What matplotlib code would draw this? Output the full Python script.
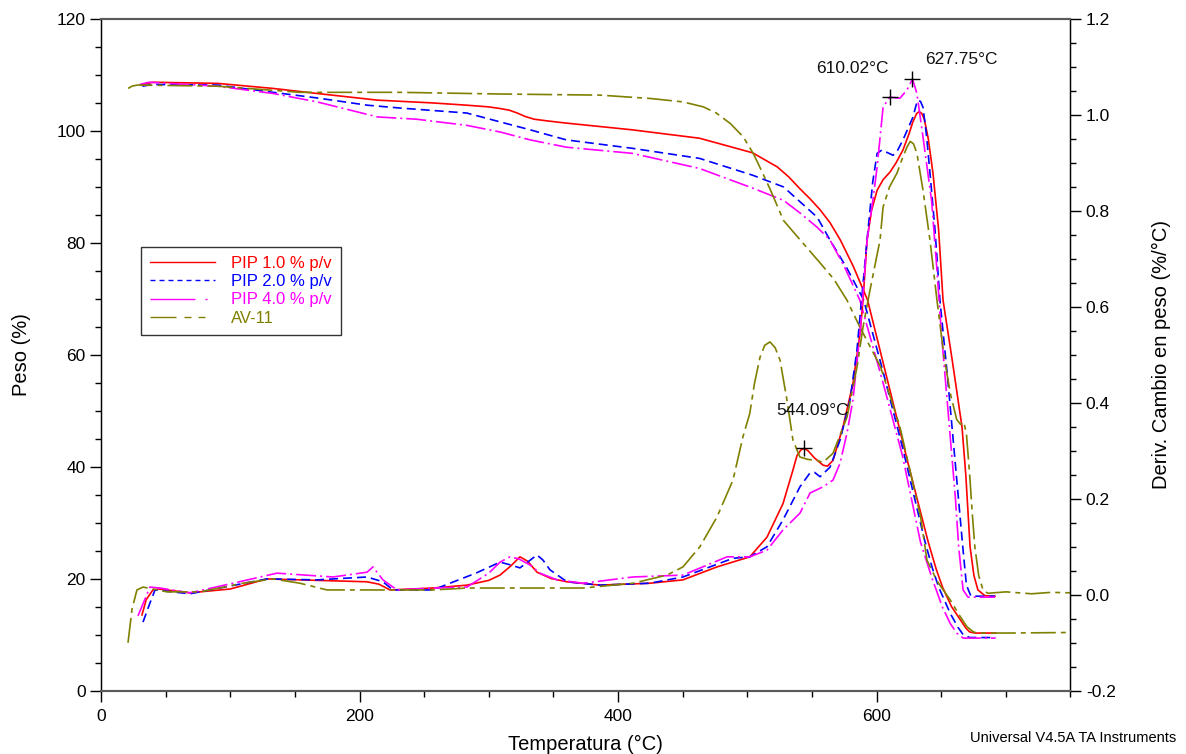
import matplotlib
matplotlib.use("Agg")
import matplotlib.pyplot as plt
from matplotlib.lines import Line2D
from matplotlib.ticker import MultipleLocator, FormatStrFormatter

plt.rcParams['font.family'] = ['Liberation Sans', 'DejaVu Sans']
plt.rcParams['lines.scale_dashes'] = False

# ---------------- weight curves (left axis, %) ----------------
t_w_pip1 = [32, 40, 90, 133, 167, 214, 257, 283, 300, 309, 316, 322, 328, 335, 345, 360, 411,
            463, 504, 523, 532, 541, 548, 556, 564, 572, 582, 593, 610, 625, 640, 646, 651,
            658, 665, 669, 672, 676, 692]
w_pip1 = [108.3, 108.7, 108.5, 107.6, 106.7, 105.5, 105.0, 104.6, 104.3, 104.0, 103.7, 103.2,
          102.6, 102.1, 101.8, 101.4, 100.2, 98.7, 96.1, 93.6, 91.8, 89.6, 88.0, 86.0, 83.6,
          80.5, 75.8, 69.8, 54.0, 40.0, 26.5, 21.8, 18.5, 15.0, 12.6, 11.2, 10.5, 10.3, 10.3]

t_w_pip2 = [32, 40, 90, 133, 167, 206, 231, 283, 309, 332, 360, 411, 463, 504, 528, 541, 554,
            564, 577, 590, 605, 620, 637, 643, 648, 657, 663, 667, 672, 692]
w_pip2 = [108.0, 108.3, 108.2, 106.9, 105.9, 104.6, 104.1, 103.2, 101.6, 100.2, 98.4, 96.9,
          95.1, 92.1, 90.0, 87.3, 84.6, 80.5, 75.5, 69.8, 57.0, 43.5, 27.0, 22.0, 18.5, 13.8,
          11.3, 10.0, 9.5, 9.5]

t_w_pip4 = [30, 37, 90, 133, 167, 214, 244, 283, 309, 332, 360, 411, 463, 504, 528, 541, 554,
            564, 575, 587, 605, 620, 634, 643, 651, 657, 662, 667, 692]
w_pip4 = [108.3, 108.7, 108.0, 106.7, 105.2, 102.5, 102.1, 101.0, 99.8, 98.4, 97.1, 96.0, 93.3,
          89.8, 87.6, 85.3, 82.8, 80.5, 75.8, 69.8, 55.0, 42.0, 26.5, 20.0, 14.9, 12.0, 10.3,
          9.4, 9.4]

t_w_av11 = [21, 24, 28, 90, 154, 231, 309, 386, 425, 450, 466, 476, 487, 497, 505, 512, 518,
            528, 541, 556, 567, 577, 587, 603, 618, 634, 639, 647, 657, 664, 670, 675, 678,
            700, 750]
w_av11 = [107.6, 108.0, 108.2, 108.0, 106.9, 106.9, 106.6, 106.4, 105.8, 105.2, 104.3, 103.2,
          101.3, 98.9, 95.8, 92.4, 89.4, 84.0, 80.5, 76.5, 73.5, 69.8, 65.0, 57.9, 47.2, 31.1,
          23.3, 19.5, 16.2, 13.5, 11.4, 10.5, 10.3, 10.3, 10.4]

# ---------------- derivative curves (right axis, %/°C) ----------------
t_d_pip1 = [31.7, 35, 40.2, 45, 68.8, 100, 128.4, 153.9, 205.8, 215, 223.6, 256.8, 283.1, 300,
            308.7, 317, 324.1, 330, 337.3, 348, 360.5, 386, 424.6, 450.2, 476.5, 501.9, 515.2,
            527.6, 535.3, 538.4, 541.5, 544.09, 547, 552, 558.6, 562, 566.3, 574, 581.7, 587.2,
            589.5, 592.6, 596, 600.4, 605, 610.4, 615, 620.4, 625, 628, 631, 633, 635, 637,
            640, 643.6, 648, 651.4, 659, 666.1, 669, 672.3, 675.3, 678.4, 683.8, 691.6]
d_pip1 = [-0.042, -0.01, 0.01, 0.012, 0.004, 0.012, 0.033, 0.031, 0.027, 0.022, 0.01, 0.014,
          0.02, 0.030, 0.041, 0.060, 0.079, 0.070, 0.047, 0.034, 0.027, 0.020, 0.024, 0.031,
          0.058, 0.079, 0.12, 0.19, 0.26, 0.29, 0.302, 0.305, 0.30, 0.285, 0.27, 0.268, 0.28,
          0.35, 0.44, 0.545, 0.614, 0.739, 0.80, 0.843, 0.865, 0.881, 0.90, 0.927, 0.96, 0.985,
          1.003, 1.007, 1.003, 0.99, 0.95, 0.879, 0.76, 0.614, 0.48, 0.349, 0.25, 0.10, 0.04,
          0.01, -0.002, -0.003]

t_d_pip2 = [32.5, 37.9, 41.8, 68.8, 128.4, 167.1, 205.8, 218.1, 225.9, 256.8, 270, 290, 308.7,
            317, 324.1, 331, 337.3, 342, 347.3, 360.5, 386, 424.6, 450.2, 488.9, 501.9, 515.2,
            527.6, 540.7, 548.5, 552, 556.3, 564, 571.7, 579.4, 584.8, 592.6, 597, 600.4, 604.2,
            608, 612.7, 616, 620.4, 624, 628.2, 630.5, 632, 634, 635.9, 638.5, 641.3, 645.2,
            649, 655, 660, 664, 666.9, 669.5, 673, 691.6]
d_pip2 = [-0.057, -0.017, 0.01, 0.002, 0.033, 0.031, 0.037, 0.027, 0.01, 0.01, 0.024, 0.045,
          0.068, 0.062, 0.056, 0.070, 0.083, 0.072, 0.052, 0.027, 0.020, 0.024, 0.037, 0.076,
          0.079, 0.10, 0.156, 0.225, 0.254, 0.255, 0.246, 0.266, 0.322, 0.405, 0.51, 0.739,
          0.86, 0.92, 0.927, 0.922, 0.916, 0.925, 0.948, 0.97, 0.996, 1.02, 1.031, 1.028,
          1.016, 0.96, 0.879, 0.76, 0.614, 0.45, 0.30, 0.18, 0.093, 0.02, -0.003, -0.003]

t_d_pip4 = [28.6, 37.9, 45.6, 68.8, 102.1, 136.1, 179.5, 205.8, 210.4, 218.1, 229, 256.8, 283.1,
            300, 308.7, 316.4, 323, 331.9, 339.6, 352.8, 372.9, 411.5, 450.2, 484.3, 501.9,
            515.2, 527.6, 540.7, 548.5, 558.6, 566.3, 571.7, 577.1, 581.7, 587.2, 592.6, 597,
            600.4, 605, 610.02, 614, 618.1, 623.5, 627.75, 631.2, 635.9, 642.6, 646.6, 650, 656,
            661, 663.5, 666.9, 670.7, 691.6]
d_pip4 = [-0.044, 0.016, 0.014, 0.004, 0.024, 0.045, 0.037, 0.047, 0.058, 0.031, 0.01, 0.014,
          0.016, 0.045, 0.068, 0.079, 0.075, 0.062, 0.045, 0.031, 0.024, 0.037, 0.041, 0.079,
          0.079, 0.093, 0.135, 0.17, 0.212, 0.225, 0.239, 0.274, 0.337, 0.406, 0.545, 0.739,
          0.82, 0.891, 1.016, 1.037, 1.036, 1.035, 1.052, 1.075, 1.045, 0.954, 0.82, 0.68,
          0.55, 0.36, 0.2, 0.1, 0.01, -0.005, -0.005]

t_d_av11 = [20.9, 24, 27.8, 32.5, 51.1, 76.6, 109.8, 133, 153.9, 174.8, 205.8, 256.8, 283.1,
            308.7, 347.3, 372.9, 411.5, 437.8, 450.2, 463.3, 476.5, 488.9, 496.6, 501.9, 505.5,
            509.8, 513.5, 517.5, 521.5, 525.3, 530.7, 535.3, 540.7, 547, 553.9, 558.6, 566.3,
            577.1, 584.8, 589.5, 594.9, 602.7, 605, 610, 615.8, 620, 623.5, 626, 628.5, 631.2,
            635.9, 641.3, 646.7, 652, 657, 662, 665, 667.5, 669.5, 672, 674, 676, 679, 682.3,
            686, 700, 720, 735, 750]
d_av11 = [-0.10, -0.03, 0.01, 0.016, 0.006, 0.006, 0.024, 0.033, 0.024, 0.01, 0.01, 0.01, 0.014,
          0.014, 0.014, 0.014, 0.024, 0.041, 0.058, 0.10, 0.162, 0.239, 0.329, 0.378, 0.44,
          0.495, 0.52, 0.527, 0.515, 0.489, 0.405, 0.322, 0.287, 0.282, 0.28, 0.276, 0.295,
          0.37, 0.474, 0.558, 0.635, 0.74, 0.808, 0.85, 0.879, 0.91, 0.933, 0.945, 0.94,
          0.92, 0.843, 0.739, 0.614, 0.50, 0.42, 0.365, 0.355, 0.36, 0.335, 0.25, 0.17, 0.10,
          0.04, 0.01, 0.003, 0.006, 0.002, 0.005, 0.004]

labels = ["PIP 1.0 % p/v", "PIP 2.0 % p/v", "PIP 4.0 % p/v", "AV-11"]
colors = ["#ff0000", "#0000ff", "#ff00ff", "#808000"]

# marked peaks: (temperature, derivative value, label offset in points)
peaks_t = [544.09, 610.02, 627.75]
peaks_d = [0.305, 1.037, 1.075]
peak_offsets = [(6, 27), (-27, 21), (35, 14)]

PX = 0.72  # points per pixel at 100 dpi
line_styles = [
    dict(linestyle="-"),
    dict(dashes=(9 * PX, 5 * PX)),
    dict(dashes=(20 * PX, 4 * PX, 2 * PX, 4 * PX)),
    dict(dashes=(25 * PX, 5 * PX, 5 * PX, 5 * PX)),
]
legend_styles = [
    dict(linestyle="-"),
    dict(dashes=(5 * PX, 4 * PX)),
    dict(dashes=(45 * PX, 10 * PX, 2 * PX, 10 * PX)),
    dict(dashes=(26 * PX, 8 * PX, 7 * PX, 7 * PX, 7 * PX, 10 * PX)),
]

fig = plt.figure(figsize=(11.86, 7.54), dpi=100)
ax = fig.add_axes([0.08516, 0.08395, 0.81745, 0.89085])
ax2 = ax.twinx()

lw = 1.2
weights = [(t_w_pip1, w_pip1), (t_w_pip2, w_pip2), (t_w_pip4, w_pip4), (t_w_av11, w_av11)]
derivs = [(t_d_pip1, d_pip1), (t_d_pip2, d_pip2), (t_d_pip4, d_pip4), (t_d_av11, d_av11)]
for (t, w), c, st in zip(weights, colors, line_styles):
    ax.plot(t, w, color=c, lw=lw, solid_joinstyle="round", **st)
for (t, d), c, st in zip(derivs, colors, line_styles):
    ax2.plot(t, d, color=c, lw=lw, solid_joinstyle="round", **st)

# peak crosses and labels
ax2.plot(peaks_t, peaks_d, linestyle="none", marker="+", color="black", ms=12, mew=1.0)
for t, d, off in zip(peaks_t, peaks_d, peak_offsets):
    ax2.annotate(f"{t:.2f}°C", xy=(t, d), xytext=off, textcoords="offset points",
                 ha="center", va="center", fontsize=12.5, color="#111111")

# axes ranges and ticks
ax.set_xlim(0, 750)
ax.set_ylim(0, 120)
ax2.set_ylim(-0.2, 1.2)
ax.xaxis.set_major_locator(MultipleLocator(200))
ax.xaxis.set_minor_locator(MultipleLocator(50))
ax.yaxis.set_major_locator(MultipleLocator(20))
ax.yaxis.set_minor_locator(MultipleLocator(5))
ax2.yaxis.set_major_locator(MultipleLocator(0.2))
ax2.yaxis.set_minor_locator(MultipleLocator(0.05))
ax2.yaxis.set_major_formatter(FormatStrFormatter("%.1f"))

for a in (ax, ax2):
    a.tick_params(which="major", direction="out", length=8, width=1, labelsize=12.5, pad=3)
    a.tick_params(which="minor", direction="out", length=4, width=1)
ax.tick_params(axis="x", which="both", top=False)
ax.tick_params(axis="x", which="major", pad=5)

for a in (ax, ax2):
    a.spines["top"].set_color("#5a5a5a")
    a.spines["bottom"].set_color("#5a5a5a")
    a.spines["top"].set_linewidth(1.5)
    a.spines["bottom"].set_linewidth(1.5)
    a.spines["left"].set_linewidth(0.9)
    a.spines["right"].set_linewidth(0.9)

ax.set_xlabel("Temperatura (°C)", fontsize=14.5, labelpad=8)
ax.set_ylabel("Peso (%)", fontsize=14.5, labelpad=18.5)
ax2.set_ylabel("Deriv. Cambio en peso (%/°C)", fontsize=14.5, labelpad=26)

# legend
handles = [Line2D([], [], color=c, lw=1.0, **st) for c, st in zip(colors, legend_styles)]
leg = ax.legend(handles, labels, loc="upper left", bbox_to_anchor=(0.0413, 0.6606),
                borderaxespad=0, fontsize=12, handlelength=3.9, handletextpad=0.96,
                labelspacing=0.19, borderpad=0.55, fancybox=False, framealpha=1,
                edgecolor="#333333")
leg.get_frame().set_linewidth(1.0)
for txt, c in zip(leg.get_texts(), colors):
    txt.set_color(c)

fig.text(0.9916, 0.021, "Universal V4.5A TA Instruments", ha="right", va="center",
         fontsize=10.5)

fig.savefig("out.png", dpi=100)
